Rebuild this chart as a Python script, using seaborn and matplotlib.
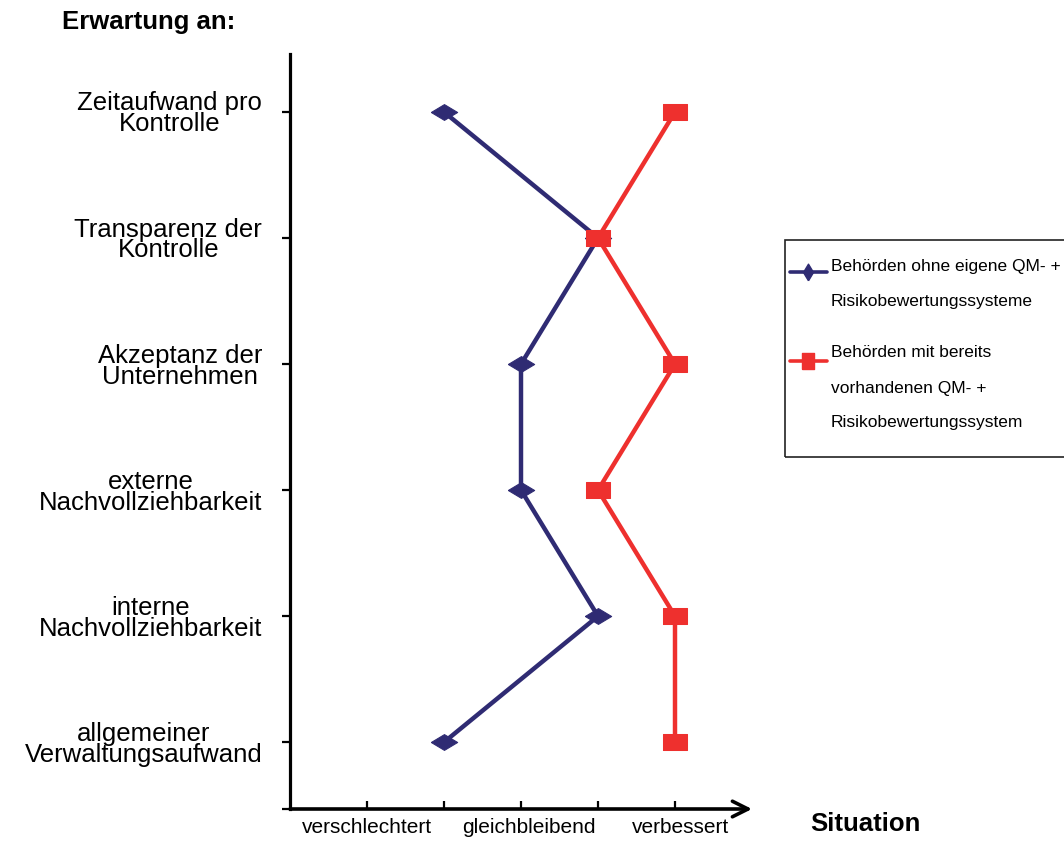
import matplotlib
matplotlib.use("Agg")
import matplotlib.pyplot as plt
from matplotlib.lines import Line2D
from matplotlib.patches import Rectangle
import numpy as np
import pandas as pd
import seaborn as sns

# Kategorien (von oben nach unten) und Bewertungen je Gruppe
kategorien = [
    "Zeitaufwand pro\nKontrolle",
    "Transparenz der\nKontrolle",
    "Akzeptanz der\nUnternehmen",
    "externe\nNachvollziehbarkeit",
    "interne\nNachvollziehbarkeit",
    "allgemeiner\nVerwaltungsaufwand",
]
ohne_qm = [2, 4, 3, 3, 4, 2]
mit_qm = [5, 4, 5, 4, 5, 5]
skala_labels = ["verschlechtert", "gleichbleibend", "verbessert"]
gruppe_ohne = "Behörden ohne eigene QM- +\nRisikobewertungssysteme"
gruppe_mit = "Behörden mit bereits\nvorhandenen QM- +\nRisikobewertungssystem"

sns.set_theme(style="white")
plt.rcParams["font.family"] = ["Liberation Sans", "DejaVu Sans"]
for key in ["text.color", "axes.labelcolor", "xtick.color", "ytick.color"]:
    plt.rcParams[key] = "black"

BLAU = "#2f2b73"
ROT = "#ee302e"

pos = np.arange(len(kategorien))
df = pd.concat([
    pd.DataFrame({"pos": pos, "wert": ohne_qm, "gruppe": gruppe_ohne}),
    pd.DataFrame({"pos": pos, "wert": mit_qm, "gruppe": gruppe_mit}),
])

raute = [(-1, 0), (0, -0.6), (1, 0), (0, 0.6), (-1, 0)]
rechteck = [(-1, -0.65), (1, -0.65), (1, 0.65), (-1, 0.65), (-1, -0.65)]

fig = plt.figure(figsize=(10.64, 8.45), dpi=100)
ax = fig.add_axes([290 / 1064, 1 - 810 / 845, (752 - 290) / 1064, (810 - 55) / 845])

sns.lineplot(data=df[df.gruppe == gruppe_ohne], x="wert", y="pos", orient="y",
             sort=False, estimator=None, color=BLAU, lw=3.2, marker=raute,
             markersize=19, mec=BLAU, mfc=BLAU, ax=ax, legend=False)
sns.lineplot(data=df[df.gruppe == gruppe_mit], x="wert", y="pos", orient="y",
             sort=False, estimator=None, color=ROT, lw=3.2, marker=rechteck,
             markersize=17, mec=ROT, mfc=ROT, ax=ax, legend=False)

y_unten = 5.53
ax.set_xlim(0, 6)
ax.set_ylim(y_unten, -0.46)

# y-Achse: Kategorien plus Strich am Ursprung
ax.set_yticks(list(pos) + [y_unten], labels=kategorien + [""])
for lbl in ax.get_yticklabels():
    lbl.set_multialignment("center")
    lbl.set_linespacing(0.84)
ax.tick_params(axis="y", direction="out", length=6, width=1.6, pad=14,
               labelsize=18.5, colors="black", left=True)

# x-Achse: Striche nach innen, Beschriftung der Skala
ax.set_xticks([1, 2, 3, 4, 5], labels=[""] * 5)
ax.tick_params(axis="x", which="major", direction="in", length=6, width=1.6,
               bottom=True, colors="black")
ax.set_xticks([1.005, 3.1, 5.07], labels=skala_labels, minor=True)
ax.tick_params(axis="x", which="minor", length=0, pad=6, labelsize=15,
               colors="black")

for s in ["top", "right", "bottom"]:
    ax.spines[s].set_visible(False)
ax.spines["left"].set_linewidth(2.3)
ax.spines["left"].set_color("black")
ax.set_xlabel("")
ax.set_ylabel("")
ax.grid(False)

ax.annotate("", xy=(6.0, y_unten), xytext=(0, y_unten),
            arrowprops=dict(arrowstyle="->", lw=2.6, color="black",
                            mutation_scale=28, shrinkA=0, shrinkB=0),
            annotation_clip=False)

fig.text(149 / 1064, 1 - 22 / 845, "Erwartung an:", fontsize=18.5,
         fontweight="bold", ha="center", va="center", color="black")
fig.text(865 / 1064, 1 - 824 / 845, "Situation", fontsize=18.5,
         fontweight="bold", ha="center", va="center", color="black")

# Legende
def fx(px):
    return px / 1064

def fy(py):
    return 1 - py / 845

fig.patches.append(Rectangle((fx(785), fy(458)), fx(1080) - fx(785), fy(241) - fy(458),
                             transform=fig.transFigure, fill=False,
                             edgecolor="#222222", lw=1.2))
fig.lines.append(Line2D([fx(790), fx(827)], [fy(273), fy(273)], transform=fig.transFigure,
                        color=BLAU, lw=2.6))
fig.lines.append(Line2D([fx(808)], [fy(273)], transform=fig.transFigure, lw=0,
                        marker=[(0, -1), (0.6, 0), (0, 1), (-0.6, 0), (0, -1)],
                        markersize=12, color=BLAU))
fig.lines.append(Line2D([fx(790), fx(827)], [fy(362), fy(362)], transform=fig.transFigure,
                        color=ROT, lw=2.6))
fig.lines.append(Line2D([fx(808)], [fy(362)], transform=fig.transFigure, lw=0,
                        marker=[(-0.8, -1), (0.8, -1), (0.8, 1), (-0.8, 1), (-0.8, -1)],
                        markersize=11, color=ROT))

leg_zeilen = [
    ("Behörden ohne eigene QM- +", 266),
    ("Risikobewertungssysteme", 302),
    ("Behörden mit bereits", 353),
    ("vorhandenen QM- +", 389),
    ("Risikobewertungssystem", 423),
]
for txt, py in leg_zeilen:
    fig.text(fx(831), fy(py), txt, fontsize=12.5, ha="left", va="center", color="black")

fig.savefig("out.png", dpi=100, facecolor="white")
